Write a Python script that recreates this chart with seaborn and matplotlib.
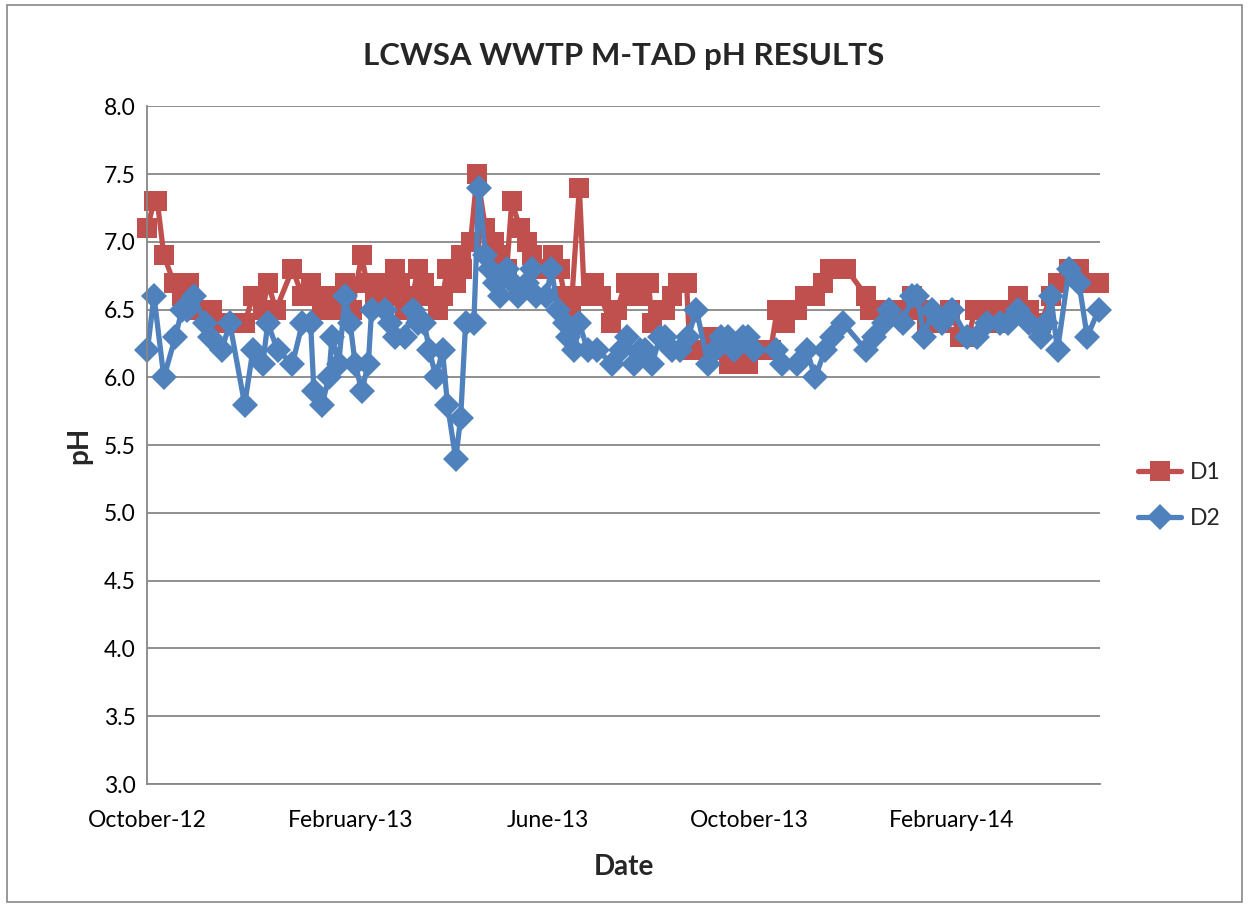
import pandas as pd
import seaborn as sns
import matplotlib.pyplot as plt
import matplotlib.dates as mdates
from matplotlib.patches import Rectangle

# dias desde 2012-10-01
d1_dias = [0, 4, 6, 10, 16, 21, 25, 28, 35, 39, 45, 50, 59, 64, 70, 73, 78, 88, 94, 99,
           102, 106, 110, 116, 120, 124, 130, 133, 138, 142, 147, 150, 153, 156, 161, 164,
           168, 173, 176, 179, 182, 187, 190, 191, 196, 200, 205, 210, 214, 218, 221, 226,
           230, 233, 237, 242, 246, 250, 253, 257, 262, 265, 271, 275, 281, 285, 290, 293,
           296, 300, 304, 306, 310, 314, 318, 322, 327, 329, 333, 341, 346, 353, 358, 364,
           368, 374, 378, 382, 387, 390, 394, 399, 405, 410, 414, 420, 424, 436, 438, 444,
           452, 459, 464, 468, 473, 481, 487, 493, 498, 502, 510, 514, 517, 521, 528, 535,
           542, 548, 552, 559, 565, 570, 577]
d1_ph = [7.1, 7.3, 7.3, 6.9, 6.7, 6.6, 6.7, 6.5, 6.5, 6.5, 6.4, 6.4, 6.4, 6.6, 6.5, 6.7, 6.5, 6.8, 6.6, 6.7,
         6.6, 6.5, 6.6, 6.5, 6.7, 6.5, 6.9, 6.7, 6.6, 6.7, 6.6, 6.8, 6.7, 6.5, 6.6, 6.8,
         6.7, 6.6, 6.5, 6.6, 6.8, 6.7, 6.9, 6.8, 7.0, 7.5, 7.1, 7.0, 6.9, 6.8, 7.3, 7.1,
         7.0, 6.9, 6.8, 6.8, 6.9, 6.8, 6.6, 6.5, 7.4, 6.6, 6.7, 6.6, 6.4, 6.5, 6.7, 6.6,
         6.7, 6.6, 6.7, 6.4, 6.5, 6.5, 6.6, 6.7, 6.7, 6.2, 6.2, 6.3, 6.2, 6.1, 6.2, 6.1,
         6.2, 6.2, 6.2, 6.5, 6.4, 6.5, 6.5, 6.6, 6.6, 6.7, 6.8, 6.8, 6.8, 6.6, 6.5, 6.5,
         6.5, 6.5, 6.6, 6.5, 6.4, 6.4, 6.5, 6.3, 6.3, 6.5, 6.4, 6.5, 6.4, 6.5, 6.6, 6.5,
         6.4, 6.6, 6.7, 6.8, 6.8, 6.7, 6.7]

d2_dias = [0, 4, 10, 17, 21, 24, 28, 35, 38, 45, 50, 59, 64, 70, 73, 79, 88, 94, 99, 101,
           106, 110, 112, 116, 120, 123, 126, 130, 134, 136, 144, 147, 150, 156, 161, 164,
           168, 171, 175, 179, 182, 187, 190, 193, 198, 201, 205, 208, 211, 214, 218, 222,
           225, 230, 233, 236, 242, 245, 249, 253, 255, 259, 262, 267, 273, 282, 287, 291,
           295, 299, 302, 306, 311, 314, 318, 323, 328, 333, 340, 344, 348, 352, 356, 361,
           364, 368, 381, 385, 394, 400, 405, 411, 415, 422, 436, 441, 447, 450, 458, 464,
           467, 471, 476, 482, 488, 497, 503, 509, 517, 522, 528, 535, 542, 545, 548, 552,
           559, 565, 570, 577]
d2_ph = [6.2, 6.6, 6.0, 6.3, 6.5, 6.5, 6.6, 6.4, 6.3, 6.2, 6.4, 5.8, 6.2, 6.1, 6.4, 6.2, 6.1, 6.4, 6.4, 5.9,
         5.8, 6.0, 6.3, 6.1, 6.6, 6.4, 6.1, 5.9, 6.1, 6.5, 6.5, 6.4, 6.3, 6.3, 6.5, 6.4,
         6.4, 6.2, 6.0, 6.2, 5.8, 5.4, 5.7, 6.4, 6.4, 7.4, 6.9, 6.8, 6.7, 6.6, 6.8, 6.7,
         6.6, 6.7, 6.8, 6.6, 6.6, 6.8, 6.5, 6.4, 6.3, 6.2, 6.4, 6.2, 6.2, 6.1, 6.2, 6.3,
         6.1, 6.2, 6.2, 6.1, 6.3, 6.3, 6.2, 6.2, 6.3, 6.5, 6.1, 6.2, 6.3, 6.3, 6.2, 6.3,
         6.3, 6.2, 6.2, 6.1, 6.1, 6.2, 6.0, 6.2, 6.3, 6.4, 6.2, 6.3, 6.4, 6.5, 6.4, 6.6,
         6.6, 6.3, 6.5, 6.4, 6.5, 6.3, 6.3, 6.4, 6.4, 6.4, 6.5, 6.4, 6.3, 6.4, 6.6, 6.2,
         6.8, 6.7, 6.3, 6.5]

inicio = pd.Timestamp('2012-10-01')
df1 = pd.DataFrame({'data': inicio + pd.to_timedelta(d1_dias, unit='D'), 'ph': d1_ph})
df2 = pd.DataFrame({'data': inicio + pd.to_timedelta(d2_dias, unit='D'), 'ph': d2_ph})

sns.set_style('white')
plt.rcParams['font.family'] = ['Lato', 'DejaVu Sans']

fig = plt.figure(figsize=(12.49, 9.09), dpi=100)
ax = fig.add_axes([0.118, 0.1375, 0.763, 0.7455])

vermelho = '#C0504D'
azul = '#4F81BD'
sns.lineplot(data=df1, x='data', y='ph', ax=ax, color=vermelho, marker='s',
             markersize=14, linewidth=3.8, markeredgewidth=0, label='D1', clip_on=False)
sns.lineplot(data=df2, x='data', y='ph', ax=ax, color=azul, marker='D',
             markersize=13, linewidth=3.8, markeredgewidth=0, label='D2', clip_on=False)

ax.set_ylim(3.0, 8.0)
ax.set_yticks([3.0, 3.5, 4.0, 4.5, 5.0, 5.5, 6.0, 6.5, 7.0, 7.5, 8.0])
ax.yaxis.set_major_formatter(plt.FormatStrFormatter('%.1f'))
ax.set_xlim(inicio, inicio + pd.Timedelta(days=578))
ax.set_xticks(pd.to_datetime(['2012-10-01', '2013-02-01', '2013-06-01', '2013-10-01', '2014-02-01']))
ax.xaxis.set_major_formatter(mdates.DateFormatter('%B-%y'))

ax.grid(axis='y', color='#878787', linewidth=1.3)
ax.set_axisbelow(True)
for lado in ['top', 'right']:
    ax.spines[lado].set_visible(False)
for lado in ['left', 'bottom']:
    ax.spines[lado].set_color('#878787')
    ax.spines[lado].set_linewidth(1.3)
ax.tick_params(axis='both', labelsize=16.5, colors='black', length=5, color='#878787', direction='out')
ax.tick_params(axis='x', pad=14)

ax.set_title('LCWSA WWTP M-TAD pH RESULTS', fontsize=22.5, fontweight='bold', pad=30)
ax.set_xlabel('Date', fontsize=20, fontweight='bold', labelpad=16)
ax.set_ylabel('pH', fontsize=20, fontweight='bold', labelpad=8)

ax.get_legend().remove()
handles, labels = ax.get_legend_handles_labels()
fig.legend(handles, labels, loc='center left', bbox_to_anchor=(0.9, 0.455),
           frameon=False, fontsize=16.5, handlelength=1.9, handletextpad=0.35,
           labelspacing=1.1, borderaxespad=0.2)

# borda do gráfico
fig.patches.append(Rectangle((0.006, 0.008), 0.988, 0.986, transform=fig.transFigure,
                             fill=False, edgecolor='#878787', linewidth=1.2))

plt.savefig('out.png', dpi=100)
